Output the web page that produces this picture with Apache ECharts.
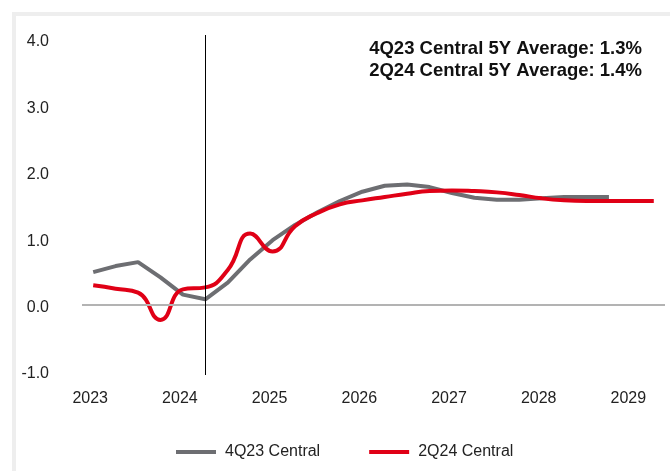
<!DOCTYPE html>
<html>
<head>
<meta charset="utf-8">
<script src="https://cdn.jsdelivr.net/npm/echarts@6/dist/echarts.min.js"></script>
<style>
  html, body { margin: 0; padding: 0; background: #fff; }
  #chart { width: 670px; height: 471px; }
</style>
</head>
<body>
<div id="chart"></div>
<script>
// quarterly categories, year label shown on each Q1
var quarters = [
  '2023 Q1', '2023 Q2', '2023 Q3', '2023 Q4',
  '2024 Q1', '2024 Q2', '2024 Q3', '2024 Q4',
  '2025 Q1', '2025 Q2', '2025 Q3', '2025 Q4',
  '2026 Q1', '2026 Q2', '2026 Q3', '2026 Q4',
  '2027 Q1', '2027 Q2', '2027 Q3', '2027 Q4',
  '2028 Q1', '2028 Q2', '2028 Q3', '2028 Q4',
  '2029 Q1', '2029 Q2'
];
var central4Q23 = [0.49, 0.58, 0.64, 0.41, 0.15, 0.08, 0.33, 0.68, 0.97, 1.20, 1.39, 1.56,
                   1.70, 1.79, 1.81, 1.77, 1.68, 1.61, 1.58, 1.58, 1.60, 1.62, 1.62, 1.62];
var central2Q24 = [0.29, 0.24, 0.18, -0.23, 0.23, 0.26, 0.52, 1.07, 0.80, 1.18, 1.38, 1.51,
                   1.57, 1.62, 1.67, 1.71, 1.72, 1.71, 1.69, 1.65, 1.60, 1.57, 1.56, 1.56,
                   1.56, 1.56];
var forecastStart = '2024 Q2';
var averages = ['4Q23 Central 5Y Average: 1.3%', '2Q24 Central 5Y Average: 1.4%'];

var font = 'Liberation Sans';
var chart = echarts.init(document.getElementById('chart'));

chart.setOption({
  animation: false,
  textStyle: { fontFamily: font },
  graphic: [{
    type: 'rect',
    shape: { x: 14, y: 14, width: 720, height: 520 },
    style: { fill: 'none', stroke: '#eeeeee', lineWidth: 4 },
    silent: true
  }],
  title: {
    text: averages.join('\n'),
    right: 28,
    top: 38,
    padding: 0,
    textStyle: {
      fontFamily: font,
      fontSize: 18.5,
      fontWeight: 'bold',
      color: '#111',
      lineHeight: 22
    }
  },
  legend: {
    left: 171,
    top: 439,
    icon: 'rect',
    itemWidth: 40,
    itemHeight: 4,
    itemGap: 49,
    textStyle: { fontFamily: font, fontSize: 16, color: '#222', padding: [0, 0, 0, 4] },
    data: ['4Q23 Central', '2Q24 Central']
  },
  grid: { left: 82, right: 5, top: 35, bottom: 96 },
  xAxis: {
    type: 'category',
    data: quarters,
    boundaryGap: true,
    axisLine: { show: false },
    axisTick: { show: false },
    splitLine: { show: false },
    axisLabel: {
      interval: 3,
      margin: 16,
      fontSize: 16,
      color: '#222',
      padding: [0, 6, 0, 0],
      formatter: function (v) { return v.split(' ')[0]; }
    }
  },
  yAxis: {
    type: 'value',
    min: -1.06,
    max: 4.06,
    splitLine: { show: false },
    axisLine: { show: false },
    axisTick: { show: false },
    axisLabel: {
      showMinLabel: false,
      showMaxLabel: false,
      margin: 33,
      fontSize: 16,
      color: '#222',
      verticalAlign: 'top',
      lineHeight: 6,
      formatter: function (v) { return v.toFixed(1); }
    }
  },
  series: [
    {
      name: '4Q23 Central',
      type: 'line',
      data: central4Q23,
      showSymbol: false,
      smooth: false,
      itemStyle: { color: '#6d6e72' },
      lineStyle: { color: '#6d6e72', width: 4 },
      markLine: {
        silent: true,
        symbol: 'none',
        label: { show: false },
        data: [
          { yAxis: 0, lineStyle: { color: '#b3b3b3', width: 2, type: 'solid' } }
        ]
      }
    },
    {
      name: '2Q24 Central',
      type: 'line',
      data: central2Q24,
      showSymbol: false,
      smooth: 0.5,
      itemStyle: { color: '#e00016' },
      lineStyle: { color: '#e00016', width: 4 },
      markLine: {
        silent: true,
        symbol: 'none',
        label: { show: false },
        data: [
          { xAxis: forecastStart, lineStyle: { color: '#000', width: 1, type: 'solid' } }
        ]
      }
    }
  ]
});
</script>
</body>
</html>
